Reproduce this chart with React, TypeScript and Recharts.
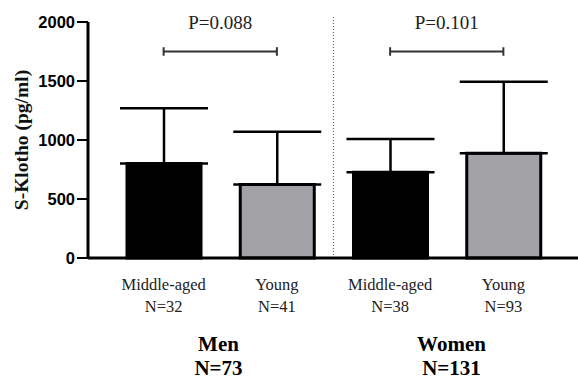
import { BarChart, Bar, XAxis, YAxis, Cell, ErrorBar, ReferenceLine } from "recharts";

// one bar per sex x age group
const categories = ["men-middle", "men-young", "women-middle", "women-young"];
const ageGroups = ["Middle-aged", "Young", "Middle-aged", "Young"];
const groupSizes = ["N=32", "N=41", "N=38", "N=93"];
const sexOfBar = ["Men", "Men", "Women", "Women"];
const meanKlotho = [800, 622, 727, 887];
const sdKlotho = [470, 448, 282, 606];

const sexLabels = ["Men", "Women"];
const sexTotals = ["N=73", "N=131"];

const yTicks = [0, 500, 1000, 1500, 2000];

// significance brackets: [from, to, label]
const brackets: [string, string, string][] = [
  ["men-middle", "men-young", "P=0.088"],
  ["women-middle", "women-young", "P=0.101"],
];
const bracketY = 1750;
const bracketCap = 36;

const SERIF = '"Liberation Serif", "Times New Roman", serif';
const SANS = '"Liberation Sans", Arial, sans-serif';

const data = categories.map((c, i) => ({
  key: c,
  age: ageGroups[i],
  sex: sexOfBar[i],
  mean: meanKlotho[i],
  err: [0, sdKlotho[i]],
}));

function AgeTick(props: any) {
  const { x, y, index } = props;
  return (
    <text x={x} y={y} textAnchor="middle" fontFamily={SERIF} fontSize={16.5} fill="#222">
      <tspan x={x} dy={32}>{ageGroups[index]}</tspan>
      <tspan x={x} dy={22}>{groupSizes[index]}</tspan>
    </text>
  );
}

function SexTick(props: any) {
  const { x, y, index } = props;
  return (
    <text x={x} y={y} textAnchor="middle" fontFamily={SERIF} fontSize={21} fontWeight="bold" fill="#000">
      <tspan x={x} dy={33}>{sexLabels[index]}</tspan>
      <tspan x={x} dy={24}>{sexTotals[index]}</tspan>
    </text>
  );
}

export default function App() {
  return (
    <div style={{ width: 578, height: 379, background: "#fff" }}>
      <style>{`body{margin:0}`}</style>
      <BarChart
        width={578}
        height={379}
        data={data}
        margin={{ top: 22, right: 0, bottom: 0, left: 0 }}
        barCategoryGap={0}
      >
        <XAxis
          dataKey="key"
          height={60}
          padding={{ left: 19, right: 18 }}
          axisLine={{ stroke: "#000", strokeWidth: 3 }}
          tickLine={false}
          tickSize={0}
          tickMargin={0}
          tick={<AgeTick />}
          interval={0}
        />
        <XAxis
          xAxisId="sex"
          dataKey="sex"
          allowDuplicatedCategory={false}
          height={61}
          padding={{ left: 14, right: 10 }}
          axisLine={false}
          tickLine={false}
          tickSize={0}
          tickMargin={0}
          tick={<SexTick />}
          interval={0}
        />
        <YAxis
          width={88}
          domain={[0, 2000]}
          ticks={yTicks}
          interval={0}
          axisLine={{ stroke: "#000", strokeWidth: 3 }}
          tickLine={{ stroke: "#000", strokeWidth: 2 }}
          tickSize={11}
          tickMargin={2}
          tick={{ fontFamily: SANS, fontSize: 16.5, fontWeight: "bold", fill: "#000" }}
          label={{
            value: "S-Klotho (pg/ml)",
            angle: -90,
            position: "insideLeft",
            offset: 21,
            style: { textAnchor: "middle", fontFamily: SERIF, fontSize: 19.5, fontWeight: "bold", fill: "#111" },
          }}
        />
        <ReferenceLine
          segment={[
            { x: "men-young", y: 0 },
            { x: "men-young", y: 2060 },
          ]}
          position="end"
          ifOverflow="visible"
          stroke="#666"
          strokeWidth={1.2}
          strokeDasharray="1 2"
        />
        <Bar dataKey="mean" barSize={74} stroke="#000" strokeWidth={3} isAnimationActive={false}>
          {data.map((d) => (
            <Cell key={d.key} fill={d.age === "Young" ? "#a3a3a7" : "#000"} />
          ))}
          <ErrorBar dataKey="err" direction="y" width={44} stroke="#000" strokeWidth={2.5} isAnimationActive={false} />
        </Bar>
        {brackets.map(([a, b, p]) => (
          <ReferenceLine
            key={p}
            segment={[
              { x: a, y: bracketY },
              { x: b, y: bracketY },
            ]}
            stroke="#333"
            strokeWidth={2}
            label={{ value: p, position: "top", offset: 23, fontFamily: SERIF, fontSize: 19, fill: "#222" }}
          />
        ))}
        {brackets.flatMap(([a, b, p]) =>
          [a, b].map((c) => (
            <ReferenceLine
              key={p + c}
              segment={[
                { x: c, y: bracketY - bracketCap },
                { x: c, y: bracketY + bracketCap },
              ]}
              stroke="#333"
              strokeWidth={2}
            />
          ))
        )}
      </BarChart>
    </div>
  );
}
